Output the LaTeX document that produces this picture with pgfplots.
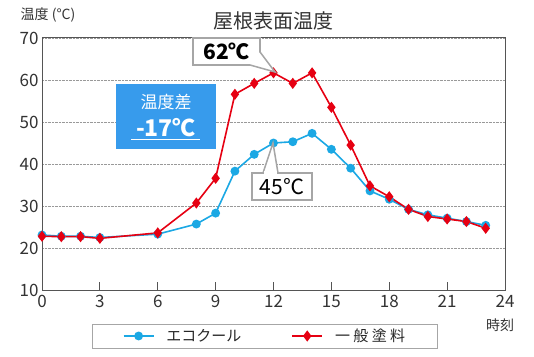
\documentclass[border=0pt]{standalone}
\usepackage{fontspec}
\setmainfont{Noto Sans CJK JP}
\usepackage{pgfplots}
\pgfplotsset{compat=1.18}
\definecolor{eco}{RGB}{27,168,228}
\definecolor{gen}{RGB}{230,0,18}
\definecolor{boxblue}{RGB}{55,155,236}
\definecolor{axgray}{RGB}{85,85,85}
\pgfplotstableread{
h v
0 23.1
1 22.8
2 22.8
3 22.5
6 23.3
8 25.7
9 28.3
10 38.3
11 42.3
12 45.0
13 45.3
14 47.3
15 43.5
16 39.0
17 33.6
18 31.6
19 29.2
20 27.9
21 27.1
22 26.3
23 25.4
}\eco
\pgfplotstableread{
h v
0 22.8
1 22.7
2 22.7
3 22.3
6 23.6
8 30.7
9 36.6
10 56.6
11 59.2
12 61.7
13 59.2
14 61.7
15 53.5
16 44.5
17 34.8
18 32.2
19 29.2
20 27.5
21 26.9
22 26.3
23 24.7
}\gen
\begin{document}
\begin{tikzpicture}[x=1pt,y=1pt]
\useasboundingbox (0,0) rectangle (534,356);
\begin{axis}[
  at={(42pt,66pt)}, anchor=south west,
  scale only axis, width=463pt, height=252pt,
  xmin=0, xmax=24, ymin=10, ymax=70,
  xtick={0,3,...,24}, ytick={10,20,...,70},
  tick label style={font=\fontsize{17}{17}\selectfont, text=black!80},
  xticklabel style={yshift=-2pt},
  /pgf/number format/assume math mode=true,
  major tick length=8pt,
  xtick style={draw=axgray, line width=1pt},
  tick align=inside,
  ytick style={draw=none},
  xtick pos=bottom,
  ymajorgrids, grid style={densely dotted, gray!80, line width=0.8pt},
  axis line style={draw=axgray, line width=1pt},
  clip=false,
  legend columns=2,
  legend style={at={(0.4816,-0.1825)}, anchor=center, draw=gray!70, line width=0.8pt,
    font=\fontsize{15}{15}\selectfont, text=black!85, inner xsep=30pt, inner ysep=3pt,
    /tikz/every odd column/.append style={column sep=10pt},
    /tikz/every even column/.append style={column sep=48pt}},
  legend image code/.code={\draw[mark repeat=2,mark phase=2,#1] plot coordinates {(0pt,0pt) (15pt,0pt) (30pt,0pt)};},
]
\addplot[eco, line width=1.6pt, mark=*, mark size=3.6pt, mark options={fill=eco, draw=eco}] table[x=h,y=v]{\eco};
\addlegendentry{エコクール}
\addplot[gen, line width=1.6pt, mark=diamond*, mark size=4.3pt, mark options={fill=gen, draw=gen}] table[x=h,y=v]{\gen};
\addlegendentry{一 般 塗 料}
\end{axis}
% texts
\node[font=\fontsize{20}{20}\selectfont, text=black!80] at (273,335) {屋根表面温度};
\node[font=\fontsize{14}{14}\selectfont, text=black!80] at (48,341) {温度 (°C)};
\node[font=\fontsize{14}{14}\selectfont, text=black!80] at (500,31) {時刻};
% 62 callout
\filldraw[fill=white, draw=gray!70, line width=1.5pt] (193,318) rectangle (260,291);
\filldraw[fill=white, draw=gray!70, line width=1.5pt] (260,304) -- (275,284) -- (250,291);
\fill[white] (251,292) rectangle (259,303);
\node[font=\fontsize{21}{21}\selectfont\bfseries] at (226.5,304.5) {62℃};
% 45 callout
\filldraw[fill=white, draw=gray!70, line width=1.5pt] (252,183) rectangle (312,156);
\filldraw[fill=white, draw=gray!70, line width=1.5pt] (263,183) -- (273,213) -- (278,183);
\fill[white] (264,182) rectangle (277,185);
\node[font=\fontsize{21}{21}\selectfont] at (282,169.5) {45℃};
% blue box
\fill[boxblue] (116,207) rectangle (216,272);
\node[font=\fontsize{17}{17}\selectfont, text=white] at (166,254) {温度差};
\node[font=\fontsize{23}{23}\selectfont\bfseries, text=white] at (166,228) {-17℃};
\draw[white, line width=1pt] (131,216) -- (200,216);
\end{tikzpicture}
\end{document}
